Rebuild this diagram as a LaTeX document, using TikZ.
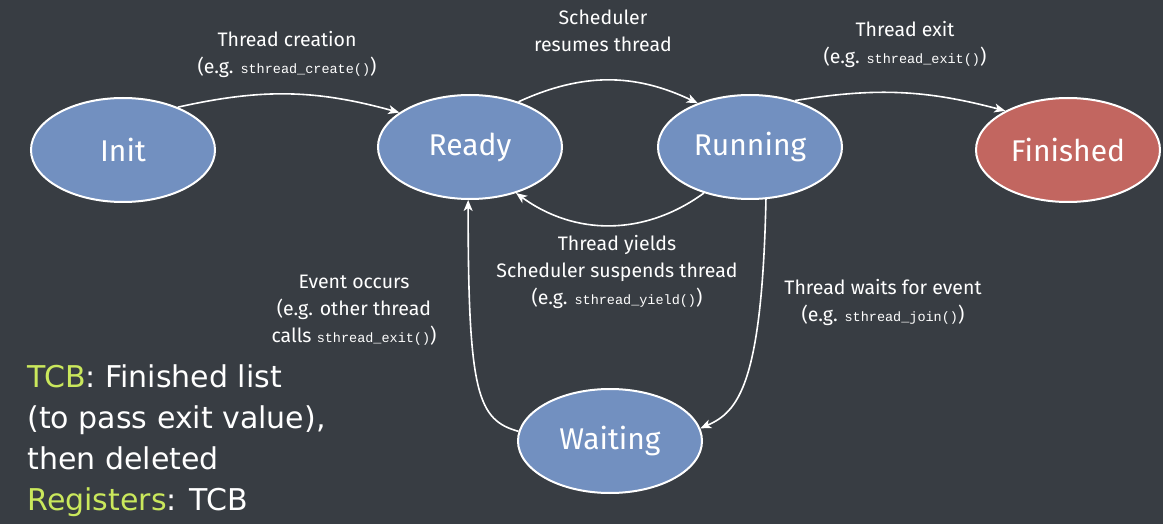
\documentclass[tikz,border=0pt]{standalone}
\usepackage{fontspec}
\setmainfont{Fira Sans}
\setmonofont{Liberation Mono}
\newfontfamily\chalkfont{DejaVu Sans}
\usetikzlibrary{arrows.meta,shapes.geometric}

\definecolor{board}{RGB}{56,61,67}
\definecolor{stateblue}{RGB}{114,144,192}
\definecolor{statered}{RGB}{194,102,96}
\definecolor{chalkgreen}{RGB}{202,232,92}

\tikzset{
  state/.style={ellipse, draw=white, line width=2pt, fill=stateblue, text=white,
    minimum width=184pt, minimum height=104pt, font=\fontsize{30}{34}\selectfont},
  trans/.style={draw=white, line width=1.6pt, -{Stealth[length=11pt,width=9pt,inset=3pt]}},
  lbl/.style={text=white, align=center, font=\fontsize{19.5}{27}\selectfont},
}
\newcommand{\code}[1]{{\ttfamily\fontsize{13.5}{13.5}\selectfont #1}}

\begin{document}
\begin{tikzpicture}[x=1pt,y=-1pt]
\useasboundingbox (0,0) rectangle (1163,524);
\fill[board] (0,0) rectangle (1163,524);

% states
\node[state] (init) at (123,150) {Init};
\node[state] (ready) at (470,147) {Ready};
\node[state] (running) at (750,147) {Running};
\node[state, fill=statered] (finished) at (1068,150) {Finished};
\node[state] (waiting) at (610,441) {Waiting};

% transition labels
\node[lbl] (lblcreate) at (287,54) {Thread creation\\(e.g. \code{sthread\_create()})};
\node[lbl] (lblresume) at (603,31) {Scheduler\\resumes thread};
\node[lbl] (lblexit) at (905,44) {Thread exit\\(e.g. \code{sthread\_exit()})};
\node[lbl] (lblyield) at (617,272) {Thread yields\\Scheduler suspends thread\\(e.g. \code{sthread\_yield()})};
\node[lbl] (lblevent) at (354,310) {Event occurs\\(e.g. other thread\\calls \code{sthread\_exit()})};
\node[lbl] (lblwait) at (883,302) {Thread waits for event\\(e.g. \code{sthread\_join()})};

% note
\node[anchor=north west, text=white, align=left, font=\chalkfont\fontsize{30}{41}\selectfont] (tcbnote) at (24,361) {
\textcolor{chalkgreen}{TCB}: Finished list\\
(to pass exit value),\\
then deleted\\
\textcolor{chalkgreen}{Registers}: TCB};

% transitions
\draw[trans] (init.38) to[bend left=14] (ready.154);
\draw[trans] (ready.43) to[bend left=25] (running.140);
\draw[trans] (running.46) to[bend left=12] (finished.148);
\draw[trans] (running.225) to[bend left=36] (ready.-45);
\draw[trans] (running.287) .. controls (762,385) and (738,412) .. (waiting.8);
\draw[trans] (waiting.174) .. controls (478,420) and (468,395) .. (ready.268);
\end{tikzpicture}
\end{document}
